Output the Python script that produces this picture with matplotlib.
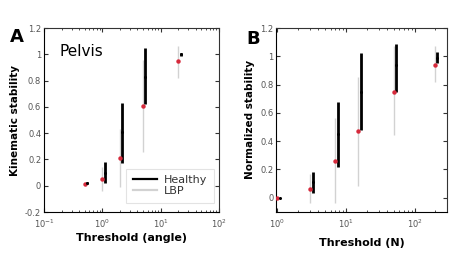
import matplotlib

matplotlib.use("Agg")

import matplotlib.pyplot as plt
from matplotlib.lines import Line2D

# Panel A - pelvis, threshold in degrees
a_lbp_x = [0.5, 1.0, 2.0, 5.0, 20.0]
a_lbp_y = [0.01, 0.05, 0.21, 0.61, 0.95]
a_lbp_lo = [0.0, -0.04, -0.01, 0.26, 0.82]
a_lbp_hi = [0.02, 0.14, 0.43, 0.96, 1.06]
a_hea_x = [0.55, 1.1, 2.18, 5.4, 22.0]
a_hea_y = [0.02, 0.10, 0.41, 0.83, 1.00]
a_hea_lo = [0.01, 0.02, 0.17, 0.62, 0.99]
a_hea_hi = [0.03, 0.18, 0.63, 1.05, 1.01]

# Panel B - force threshold in newtons
b_lbp_x = [1.0, 3.0, 7.0, 15.0, 50.0, 200.0]
b_lbp_y = [0.0, 0.06, 0.26, 0.47, 0.75, 0.94]
b_lbp_lo = [0.0, -0.035, -0.035, 0.08, 0.44, 0.82]
b_lbp_hi = [0.0, 0.17, 0.56, 0.85, 1.07, 1.07]
b_hea_x = [1.12, 3.34, 7.7, 16.7, 54.0, 211.0]
b_hea_y = [0.0, 0.11, 0.45, 0.75, 0.94, 0.99]
b_hea_lo = [0.0, 0.03, 0.22, 0.48, 0.75, 0.95]
b_hea_hi = [0.0, 0.18, 0.68, 1.02, 1.09, 1.03]

GREY = "#d2d2d2"
RED = "#d62a3c"
TICK_COLOR = "#555555"


def draw_panel(ax, lx, ly, llo, lhi, hx, hy, hlo, hhi):
    ax.vlines(lx, llo, lhi, color=GREY, lw=1.0, zorder=1)
    ax.vlines(hx, hlo, hhi, color="black", lw=2.0, zorder=2)
    ax.plot(lx, ly, "o", ms=3.2, color=RED, mec="none", zorder=3)
    ax.plot(hx, hy, "o", ms=2.2, color="black", mec="none", zorder=4)
    ax.set_xscale("log")
    ax.tick_params(which="both", direction="in", top=True, right=True,
                   labelsize=6, labelcolor=TICK_COLOR, color="#333333", pad=2)
    ax.tick_params(axis="x", which="both", pad=4)
    ax.tick_params(which="major", length=3)
    ax.tick_params(which="minor", length=1.5)
    for side in ("left", "bottom"):
        ax.spines[side].set_color("black")
    for side in ("top", "right"):
        ax.spines[side].set_color("#333333")


fig = plt.figure(figsize=(4.58, 2.57), dpi=100)
fig.patch.set_facecolor("white")

ax_a = fig.add_axes([0.096, 0.175, 0.382, 0.716])
draw_panel(ax_a, a_lbp_x, a_lbp_y, a_lbp_lo, a_lbp_hi,
           a_hea_x, a_hea_y, a_hea_lo, a_hea_hi)
ax_a.set_xlim(0.1, 100)
ax_a.set_ylim(-0.2, 1.2)
ax_a.set_yticks([-0.2, 0, 0.2, 0.4, 0.6, 0.8, 1, 1.2])
ax_a.set_yticklabels(["-0.2", "0", "0.2", "0.4", "0.6", "0.8", "1", "1.2"])
ax_a.set_xlabel("Threshold (angle)", fontsize=8, fontweight="bold", labelpad=2)
ax_a.set_ylabel("Kinematic stability", fontsize=7.5, fontweight="bold", labelpad=4)
ax_a.text(0.09, 0.87, "Pelvis", transform=ax_a.transAxes, fontsize=11, va="center")
handles = [Line2D([], [], color="black", lw=1.6), Line2D([], [], color=GREY, lw=1.6)]
leg = ax_a.legend(handles, ["Healthy", "LBP"], loc="lower right", fontsize=8,
                  frameon=True, fancybox=False, edgecolor="#dddddd",
                  handlelength=2.2, handletextpad=0.6, borderpad=0.6,
                  labelspacing=0.1, borderaxespad=0,
                  bbox_to_anchor=(0.971, 0.049))
leg.get_frame().set_linewidth(0.8)
for t in leg.get_texts():
    t.set_color("#333333")

ax_b = fig.add_axes([0.603, 0.176, 0.374, 0.715])
draw_panel(ax_b, b_lbp_x, b_lbp_y, b_lbp_lo, b_lbp_hi,
           b_hea_x, b_hea_y, b_hea_lo, b_hea_hi)
ax_b.set_xlim(0.97, 300)
ax_b.set_ylim(-0.1, 1.2)
ax_b.set_yticks([0, 0.2, 0.4, 0.6, 0.8, 1, 1.2])
ax_b.set_yticklabels(["0", "0.2", "0.4", "0.6", "0.8", "1", "1.2"])
ax_b.set_xlabel("Threshold (N)", fontsize=8, fontweight="bold", labelpad=6)
ax_b.set_ylabel("Normalized stability", fontsize=7.5, fontweight="bold", labelpad=4)

fig.text(0.022, 0.855, "A", fontsize=13, fontweight="bold", va="center")
fig.text(0.538, 0.85, "B", fontsize=13, fontweight="bold", va="center")

fig.savefig("out.png", dpi=100, facecolor="white")
